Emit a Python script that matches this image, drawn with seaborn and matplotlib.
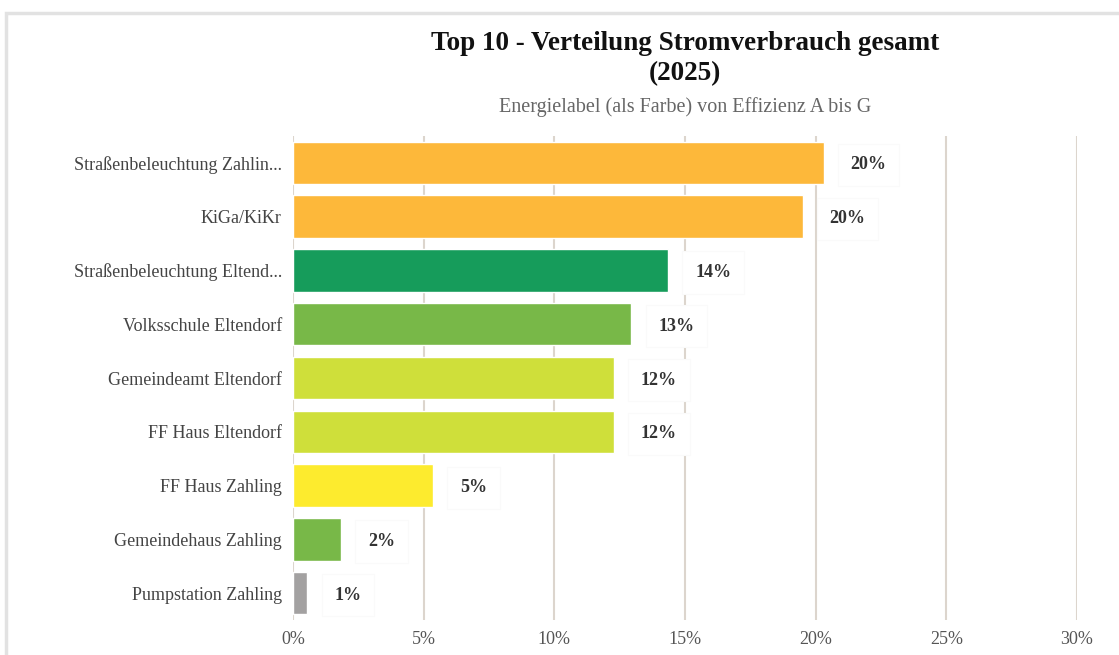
import matplotlib
matplotlib.use("Agg")
import matplotlib.pyplot as plt
import seaborn as sns
import pandas as pd
from matplotlib.patches import Rectangle

# Share of total electricity consumption per building (percent)
categories = [
    "Straßenbeleuchtung Zahlin...",
    "KiGa/KiKr",
    "Straßenbeleuchtung Eltend...",
    "Volksschule Eltendorf",
    "Gemeindeamt Eltendorf",
    "FF Haus Eltendorf",
    "FF Haus Zahling",
    "Gemeindehaus Zahling",
    "Pumpstation Zahling",
]
shares = [20.3, 19.5, 14.35, 12.95, 12.28, 12.28, 5.36, 1.84, 0.54]
# Energy-label colour of each building
bar_colors = ["#FDB83A", "#FDB83A", "#169C5B", "#78B848", "#CFDF3A",
              "#CFDF3A", "#FDEB2E", "#78B848", "#A3A1A1"]
x_ticks = [0, 5, 10, 15, 20, 25, 30]

df = pd.DataFrame({"Objekt": categories, "Anteil": shares})

sns.set_theme(style="white")
plt.rcParams["font.family"] = ["Liberation Serif", "DejaVu Serif"]

fig = plt.figure(figsize=(11.19, 6.55), dpi=100)
ax = fig.add_axes([0.2618, 0.0534, 0.7007, 0.7390])

sns.barplot(data=df, x="Anteil", y="Objekt", hue="Objekt",
            palette=bar_colors, orient="h", width=0.79,
            legend=False, ax=ax, zorder=3, saturation=1)

ax.set_xlim(0, 30)
ax.set_xticks(x_ticks)
ax.set_xticklabels([f"{t}%" for t in x_ticks])
ax.set_xlabel("")
ax.set_ylabel("")
for s in ax.spines.values():
    s.set_visible(False)
ax.grid(axis="x", color="#DCD5CD", linewidth=1.5, zorder=0)
ax.grid(axis="y", visible=False)
ax.set_axisbelow(True)
ax.tick_params(axis="y", length=0, pad=8, labelsize=13, labelcolor="#444444")
ax.tick_params(axis="x", length=0, pad=8, labelsize=13, labelcolor="#555555")

# Value labels in white boxes to the right of each bar
for i, v in enumerate(shares):
    ax.annotate(f"{v:.0f}%", xy=(v, i), xytext=(19.5, -1.5),
                textcoords="offset points", ha="left", va="center",
                fontsize=13, fontweight="bold", color="#333333", zorder=5,
                bbox=dict(boxstyle="square,pad=0.7", fc="white",
                          ec="#FAFAFA", lw=0.8))

# Titles centred over the plot area
cx = 685 / 1119
fig.text(cx, 1 - 43 / 655, "Top 10 - Verteilung Stromverbrauch gesamt",
         ha="center", va="center", fontsize=19.5, fontweight="bold",
         color="#111111")
fig.text(cx, 1 - 74 / 655, "(2025)",
         ha="center", va="center", fontsize=19.5, fontweight="bold",
         color="#111111")
fig.text(cx, 1 - 107 / 655, "Energielabel (als Farbe) von Effizienz A bis G",
         ha="center", va="center", fontsize=14.5, color="#666666")

# Light frame around the chart
fig.patches.append(Rectangle((5.5 / 1119, -0.1), 1.2, 1 - 13 / 655 + 0.1,
                             transform=fig.transFigure, fill=False,
                             ec="#E2E2E2", lw=2.5, zorder=0))

fig.savefig("out.png", dpi=100)
